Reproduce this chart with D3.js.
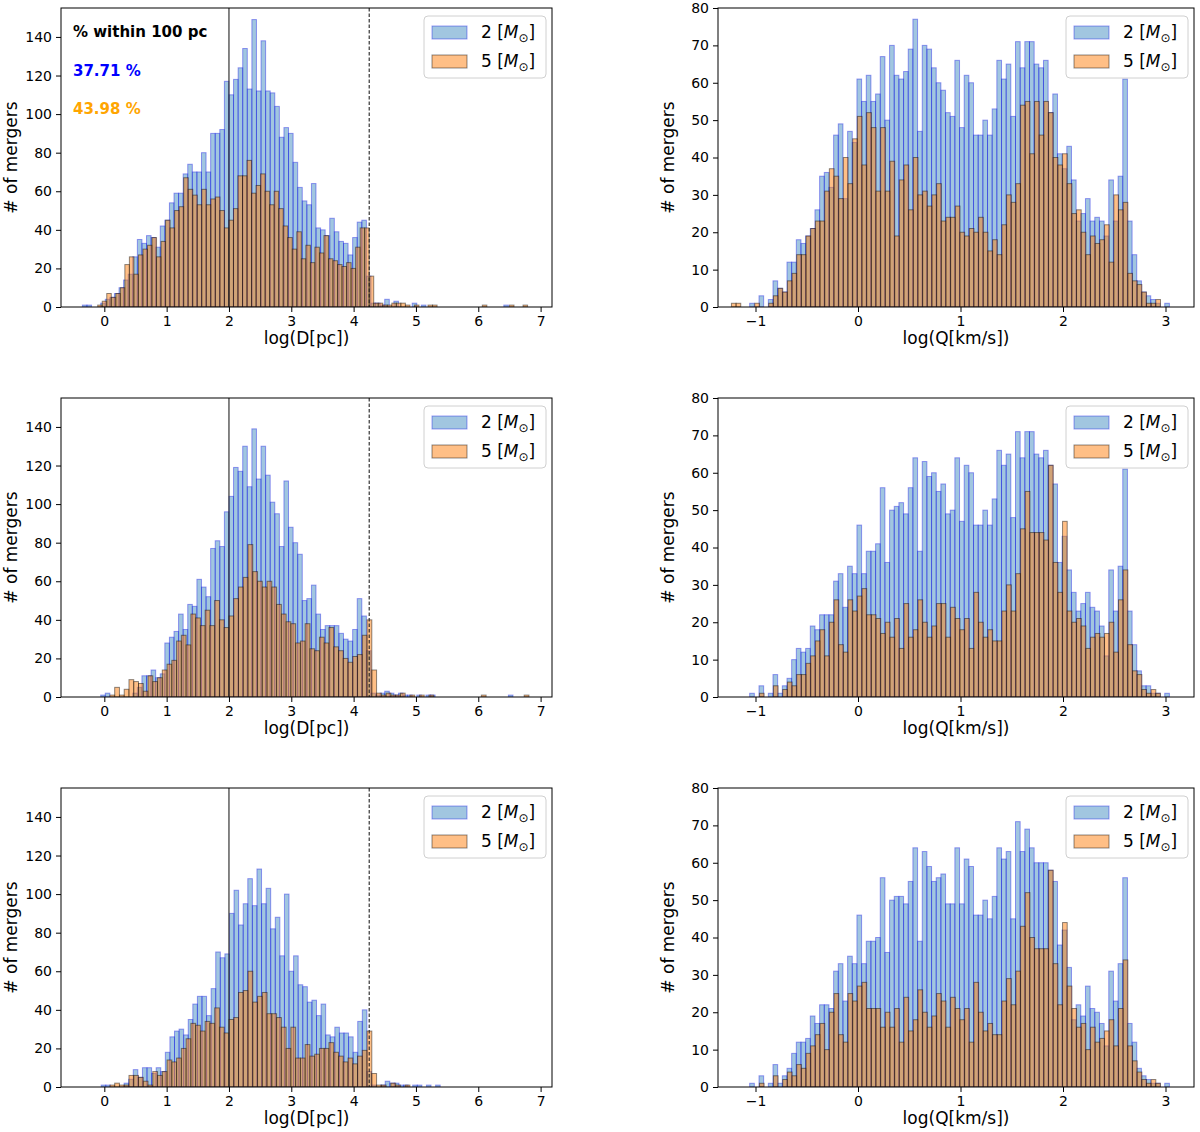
<!DOCTYPE html>
<html><head><meta charset="utf-8">
<script src="https://cdn.jsdelivr.net/npm/d3@7"></script>
<style>body{margin:0;background:#fff}svg{display:block}text{font-family:"DejaVu Sans",sans-serif}</style>
</head><body>
<svg id="fig" width="1200" height="1132"></svg>
<script>
// ---------- DATA ----------
// Left column: histograms of log(D[pc]); right column: log(Q[km/s])
const seriesNames = ["2", "5"];
const dTicks = [0, 1, 2, 3, 4, 5, 6, 7];
const dCountTicks = [0, 20, 40, 60, 80, 100, 120, 140];
const qTicks = [-1, 0, 1, 2, 3];
const qCountTicks = [0, 10, 20, 30, 40, 50, 60, 70, 80];
const dLines = [2, 4.25];
const annotTitle = "% within 100 pc";
const annotValues = ["37.71 %", "43.98 %"];

// bin start / width of each series [start, width]
const dBins1Blue = [-0.4255, 0.0735], dBins1Orange = [-0.106, 0.0726];
const dBins2Blue = [-0.058, 0.0735],  dBins2Orange = [0.09, 0.0764];
const dBins3Blue = [-0.05, 0.0735],   dBins3Orange = [0.09, 0.0764];
const qBinsBlue = [-1.057, 0.0455],   qBinsOrange = [-1.235, 0.0455];

const dBlue1 = [0,1,1,0,0,2,4,5,7,10, 14,17,26,35,33,37,36,31,42,45, 54,59,59,69,74,70,70,80,70,90,
  90,92,117,110,118,124,134,113,149,112, 138,112,111,104,88,93,90,75,62,55, 53,64,41,40,37,46,39,34,33,27,
  36,44,45,16,2,2,1,4,0,3, 0,0,0,2,0,1,0,0,0,0, 0,0,0,0,0,0,0,0,0,0, 0,0,0,1];
const dOrange1 = [1,3,7,5,7,10,22,26,17,27, 30,32,36,26,34,45,41,50,52,67, 61,58,53,61,53,56,57,50,41,45,
  51,68,68,76,59,63,69,60,53,60, 51,42,36,30,39,25,32,23,31,28, 37,25,24,22,21,23,20,31,41,41,
  16,2,2,1,1,2,2,2,1,0, 1,0,0,1,1,0,0,0,0,0, 0,0,0,0,0,1,0,0,0,0, 0,1,0,0,1];
const dBlue2 = [1,2,0,0,0,0,0,2,5,11, 11,14,10,12,28,31,34,43,35,48, 47,61,57,52,77,81,78,96,104,119,
  117,130,109,139,113,130,115,101,95,78, 112,88,80,74,50,51,58,43,35,37, 37,37,33,30,29,35,51,42,24,2,
  1,2,3,2,1,2,1,1,0,1, 0,1,1,0,0,0,0,0,0,0, 0,0,0,0,0,0,0,0,0,1];
const dOrange2 = [1,5,1,4,9,8,7,3,11,8, 10,14,17,19,29,32,27,43,41,37, 45,37,50,40,36,42,51,57,62,79,
  65,60,57,60,57,48,43,39,38,28, 29,38,25,24,31,28,36,26,24,20, 18,21,22,32,40,14,2,1,2,1,
  1,2,0,1,0,1,0,1,0,0, 0,0,0,0,0,0,0,0,1,0, 0,0,0,0,0,0,0,1];
const dBlue3 = [1,1,0,0,0,2,4,9,5,10, 10,7,10,8,18,26,29,30,27,35, 43,47,47,37,51,70,67,69,90,102,
  84,95,108,94,113,95,103,82,88,68, 100,60,68,53,52,44,45,37,43,27, 26,31,28,28,26,18,34,40,8,1,
  0,1,3,2,2,1,1,0,1,1, 0,1,0,1];
const dOrange3 = [1,2,1,1,6,6,5,3,1,8, 6,8,14,13,15,20,25,33,32,29, 34,33,41,31,28,35,36,49,50,60,
  44,47,49,38,38,36,31,20,31,15, 15,22,16,17,20,20,23,18,16,13, 15,12,16,19,29,7,1,1,0,2, 1,0,1];

const qBlue1 = [1,0,3,0,2,7,5,4,12,12, 18,17,19,21,26,35,36,32,46,49, 29,47,44,61,55,62,55,57,67,50,
  70,62,61,63,69,77,47,70,69,64, 60,58,52,51,66,48,62,60,46,46, 50,46,53,66,61,65,51,71,64,71,
  71,65,64,66,52,57,41,37,43,34, 23,25,29,23,24,23,19,34,23,35, 61,23,14,7,4,3,2,1,0,1];
const qOrange1 = [1,1,0,0,0,1,0,0,1,3, 5,4,7,9,14,14,19,21,23,23, 31,37,35,29,40,33,45,51,38,52,
  48,31,48,31,39,19,34,38,26,40, 30,31,27,30,33,23,24,
  24,27,20,19,21,20,24,20,15,18, 14,22,30,28,33,54,55,41,55,46, 55,52,40,38,41,33,25,26,20,14,
  19,17,18,22,12,30,26,28,9,7, 6,4,1,1,2];
const qBlue2 = [1,0,3,0,1,6,1,3,5,10, 13,12,13,19,18,22,22,22,31,33, 24,35,33,46,33,39,39,41,56,36,
  50,51,52,49,56,64,39,63,59,60, 55,57,49,50,64, 47,62,60,46,46,50,46,53,66,62,
  65,48,71,64,71,71,65,64,66,62, 57,36,43,34,28,23,25,28,24,23, 19,11,34,23,35,61,23,14,7,3, 3,1,1,0,1];
const qOrange2 = [0,0,0,0,0,0,1,0,0,3, 0,2,4,3,6,6,9,11,15,18, 11,20,26,14,12,26,23,27,29,22,
  22,21,17,20,16,21,13,25,16,18, 26,20,16,19,25,25,16,
  24,21,18,21,13,28,20,16,18,15, 15,23,30,23,33,45,55,44,44,44, 42,62,36,28,47,23,20,21,19,13,
  16,17,16,17,20,12,26,34,14,7, 6,2,1,2,1];
const qBlue3 = [1,0,3,0,1,6,1,3,5,9, 12,12,13,19,17,22,22,21,31,33, 23,35,33,46,33,39,39,40,56,36,
  50,51,51,49,55,64,39,63,59,55, 56,57,49,49,64, 49,61,59,46,46,50,45,51,64,61,
  63,45,71,63,69,64,60,60,60,58, 55,38,42,32,18,22,19,27,21,20, 17,11,31,23,33,56,17,12,5,3, 2,1,1,0,1];
const qOrange3 = [0,0,0,0,0,0,1,0,0,3, 0,2,4,3,6,5,9,11,14,17, 10,20,25,14,12,25,23,27,28,21,
  21,21,16,20,16,21,12,24,15,18, 26,20,16,19,25,23,16,
  24,21,18,21,12,28,20,15,17,14, 14,23,29,22,31,43,52,40,37,37, 37,58,33,22,44,27,21,16,17,10,
  16,12,13,15,18,11,21,34,11,7, 4,2,1,2,1];

// ---------- LAYOUT / STYLE ----------
const rowsY = [8, 398, 788], plotH = 299;
const cols = [{x0: 61, x1: 552, dom: [-0.695, 7.183]}, {x0: 718, x1: 1194, dom: [-1.366, 3.278]}];
const FONT = '"DejaVu Sans", sans-serif';
const blueFill = "rgba(31,119,180,0.42)", blueEdge = "rgba(0,0,230,0.38)";
const orangeFill = "rgba(255,127,14,0.5)", orangeEdge = "rgba(0,0,0,0.45)";

const panels = [
  {row:0,col:0,kind:"d",blue:dBlue1,orange:dOrange1,bb:dBins1Blue,bo:dBins1Orange,annot:true},
  {row:1,col:0,kind:"d",blue:dBlue2,orange:dOrange2,bb:dBins2Blue,bo:dBins2Orange},
  {row:2,col:0,kind:"d",blue:dBlue3,orange:dOrange3,bb:dBins3Blue,bo:dBins3Orange},
  {row:0,col:1,kind:"q",blue:qBlue1,orange:qOrange1,bb:qBinsBlue,bo:qBinsOrange},
  {row:1,col:1,kind:"q",blue:qBlue2,orange:qOrange2,bb:qBinsBlue,bo:qBinsOrange},
  {row:2,col:1,kind:"q",blue:qBlue3,orange:qOrange3,bb:qBinsBlue,bo:qBinsOrange},
];

const svg = d3.select("#fig");

panels.forEach(p => {
  const c = cols[p.col], top = rowsY[p.row], bottom = top + plotH;
  const isD = p.kind === "d";
  const x = d3.scaleLinear().domain(c.dom).range([c.x0, c.x1]);
  const y = d3.scaleLinear().domain(isD ? [0, 155] : [0, 80]).range([bottom, top]);
  const g = svg.append("g");

  const clipId = "clip" + p.row + p.col;
  svg.append("clipPath").attr("id", clipId).append("rect")
    .attr("x", c.x0).attr("y", top).attr("width", c.x1 - c.x0).attr("height", plotH);
  const plot = g.append("g").attr("clip-path", `url(#${clipId})`);

  function drawHist(counts, bins, fill, edge) {
    const data = counts.map((v, i) => ({v, i})).filter(d => d.v > 0);
    plot.append("g").selectAll("rect").data(data).join("rect")
      .attr("x", d => x(bins[0] + d.i * bins[1]))
      .attr("width", d => x(bins[0] + (d.i + 1) * bins[1]) - x(bins[0] + d.i * bins[1]))
      .attr("y", d => y(d.v))
      .attr("height", d => y(0) - y(d.v))
      .attr("fill", fill).attr("stroke", edge).attr("stroke-width", 1);
  }
  drawHist(p.blue, p.bb, blueFill, blueEdge);
  drawHist(p.orange, p.bo, orangeFill, orangeEdge);

  if (isD) {
    dLines.forEach((v, k) => {
      plot.append("line").attr("x1", x(v)).attr("x2", x(v)).attr("y1", top).attr("y2", bottom)
        .attr("stroke", "#222").attr("stroke-width", 1.1)
        .attr("stroke-dasharray", k === 1 ? "3.5,2" : null);
    });
  }

  // axes
  const xAxis = d3.axisBottom(x).tickValues(isD ? dTicks : qTicks).tickSize(5).tickPadding(4)
    .tickFormat(d => d < 0 ? "\u2212" + Math.abs(d) : String(d));
  const yAxis = d3.axisLeft(y).tickValues(isD ? dCountTicks : qCountTicks).tickSize(5).tickPadding(4);
  const gx = g.append("g").attr("transform", `translate(0,${bottom})`).call(xAxis);
  const gy = g.append("g").attr("transform", `translate(${c.x0},0)`).call(yAxis);
  [gx, gy].forEach(a => {
    a.select(".domain").remove();
    a.selectAll("text").attr("font-family", FONT).attr("font-size", 14).attr("fill", "#000");
    a.selectAll("line").attr("stroke", "#000").attr("stroke-width", 1);
  });
  g.append("rect").attr("x", c.x0).attr("y", top).attr("width", c.x1 - c.x0).attr("height", plotH)
    .attr("fill", "none").attr("stroke", "#000").attr("stroke-width", 1);

  // axis labels
  g.append("text").attr("x", (c.x0 + c.x1) / 2).attr("y", bottom + 37)
    .attr("text-anchor", "middle").attr("font-size", 17).text(isD ? "log(D[pc])" : "log(Q[km/s])");
  const ylx = c.x0 - 44;
  g.append("text").attr("transform", `translate(${ylx},${(top + bottom) / 2}) rotate(-90)`)
    .attr("text-anchor", "middle").attr("font-size", 17).text("# of mergers");

  // legend
  const lx = c.x1 - 128, ly = top + 8;
  const lg = g.append("g");
  lg.append("rect").attr("x", lx).attr("y", ly).attr("width", 122).attr("height", 62).attr("rx", 4)
    .attr("fill", "rgba(255,255,255,0.8)").attr("stroke", "#d0d0d0");
  [[blueFill, blueEdge], [orangeFill, orangeEdge]].forEach((st, k) => {
    const yy = ly + 10 + k * 29;
    lg.append("rect").attr("x", lx + 8).attr("y", yy).attr("width", 35).attr("height", 13)
      .attr("fill", st[0]).attr("stroke", st[1]);
    const t = lg.append("text").attr("x", lx + 57).attr("y", yy + 12).attr("font-size", 17);
    t.append("tspan").text(seriesNames[k] + " [");
    t.append("tspan").attr("font-style", "italic").text("M");
    t.append("tspan").attr("font-size", 12).attr("dy", 4).text("\u2299");
    t.append("tspan").attr("dy", -4).text("]");
  });

  if (p.annot) {
    g.append("text").attr("x", c.x0 + 12).attr("y", top + 29).attr("font-size", 15)
      .attr("font-weight", "bold").text(annotTitle);
    g.append("text").attr("x", c.x0 + 12).attr("y", top + 68).attr("font-size", 15)
      .attr("font-weight", "bold").attr("fill", "#0000ff").text(annotValues[0]);
    g.append("text").attr("x", c.x0 + 12).attr("y", top + 106).attr("font-size", 15)
      .attr("font-weight", "bold").attr("fill", "#ffa500").text(annotValues[1]);
  }
});
</script>
</body></html>
